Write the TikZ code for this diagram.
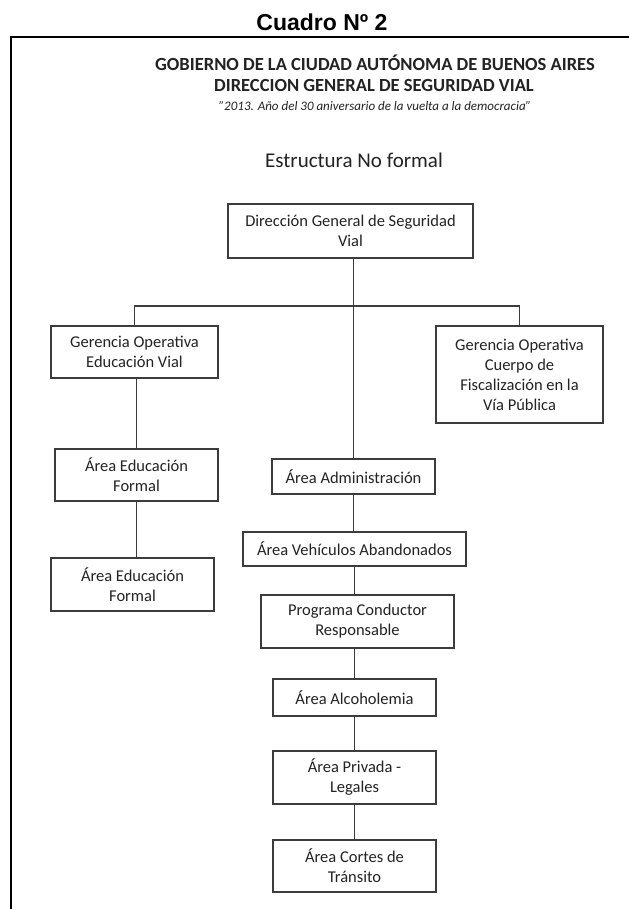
\documentclass[tikz,border=0pt]{standalone}
\usepackage{fontspec}
\setmainfont{Carlito}
\newfontfamily\titlefont{Liberation Sans}
\usepackage{tikz}
\usetikzlibrary{
    calc,
    positioning
}
\definecolor{scanline}{RGB}{60,60,60}
\definecolor{scantext}{RGB}{35,35,35}
\tikzset{
    % Box styles
    org box/.style={
        draw=scanline,
        line width=1.3bp,
        rectangle,
        inner sep=0pt,
        align=center,
        text=scantext,
        font=\fontsize{16.5bp}{20bp}\selectfont
    },
    % Text styles
    head text/.style={
        text=scantext,
        anchor=base,
        inner sep=0pt,
        font=\bfseries\fontsize{18.5bp}{22bp}\selectfont
    },
    % Line styles
    org line/.style={
        draw=scanline,
        line width=1.3bp
    },
    frame line/.style={
        draw=black,
        line width=2.4bp
    }
}

\begin{document}
\begin{tikzpicture}[x=1bp, y=-1bp]
    \useasboundingbox[fill=white] (0,0) rectangle (629,909);

    % title and frame
    \node[anchor=base, inner sep=0pt, font=\titlefont\bfseries\fontsize{23bp}{26bp}\selectfont] (title) at (322,30) {Cuadro Nº 2};
    \draw[frame line] (11,909) -- (11,37) -- (629,37);

    % header
    \node[head text] (gob) at (375,70) {GOBIERNO DE LA CIUDAD AUTÓNOMA DE BUENOS AIRES};
    \node[head text] (dgsv) at (374,91) {DIRECCION GENERAL DE SEGURIDAD VIAL};
    \node[head text, font=\itshape\fontsize{13bp}{15bp}\selectfont] (lema) at (375,110) {"2013. Año del 30 aniversario de la vuelta a la democracia"};
    \node[head text, font=\fontsize{21bp}{24bp}\selectfont] (estr) at (354,167) {Estructura No formal};

    % boxes
    \node[org box, minimum width=245bp, minimum height=54bp] (dir) at (350.5,231) {Dirección General de Seguridad\\Vial};
    \node[org box, minimum width=167bp, minimum height=52bp] (gev) at (134.5,352) {Gerencia Operativa\\Educación Vial};
    \node[org box, minimum width=167bp, minimum height=97bp] (gcf) at (519.5,374.5) {Gerencia Operativa\\Cuerpo de\\Fiscalización en la\\Vía Pública};
    \node[org box, minimum width=163bp, minimum height=52bp] (ef1) at (136.5,475) {Área Educación\\Formal};
    \node[org box, minimum width=163bp, minimum height=53bp] (ef2) at (132.5,584.5) {Área Educación\\Formal};
    \node[org box, minimum width=163bp, minimum height=35bp] (adm) at (353.5,476.5) {Área Administración};
    \node[org box, minimum width=223bp, minimum height=34bp] (veh) at (354.5,549) {Área Vehículos Abandonados};
    \node[org box, minimum width=193bp, minimum height=53bp] (prog) at (357.5,621.5) {Programa Conductor\\Responsable};
    \node[org box, minimum width=163bp, minimum height=37bp] (alc) at (354.5,697.5) {Área Alcoholemia};
    \node[org box, minimum width=163bp, minimum height=53bp] (priv) at (354.5,777.5) {Área Privada -\\Legales};
    \node[org box, minimum width=163bp, minimum height=52bp] (cort) at (354.5,866) {Área Cortes de\\Tránsito};

    % connectors
    \coordinate (bus) at (354,306);
    \draw[org line] (adm.north) -- (adm.north |- dir.south);
    \draw[org line] (gev.north) |- (bus) -| (gcf.north);
    \draw[org line] (ef1.north) -- (ef1.north |- gev.south);
    \draw[org line] (ef1.south) -- (ef1.south |- ef2.north);
    \draw[org line] (adm.south) -- (adm.south |- veh.north);
    \draw[org line] (alc.north |- veh.south) -- (alc.north |- prog.north);
    \draw[org line] (alc.north |- prog.south) -- (alc.north);
    \draw[org line] (alc.south) -- (priv.north);
    \draw[org line] (priv.south) -- (cort.north);
\end{tikzpicture}
\end{document}
